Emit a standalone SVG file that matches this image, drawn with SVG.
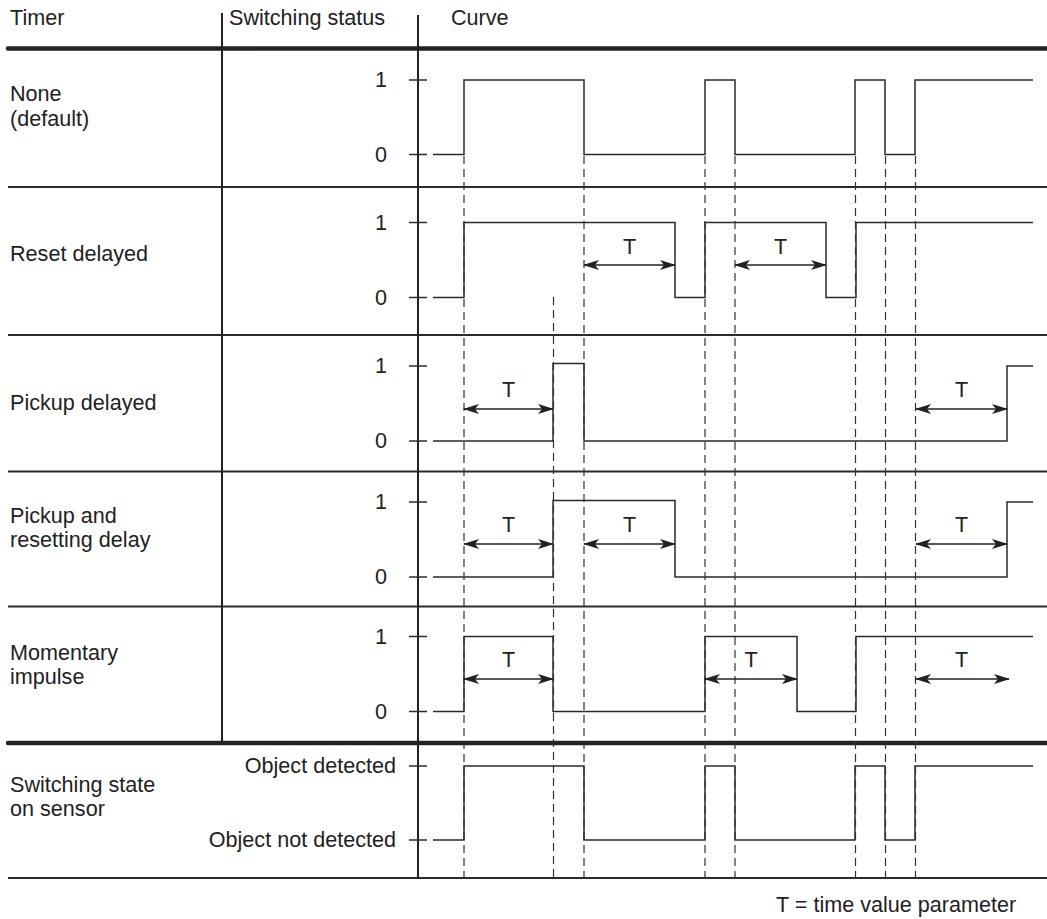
<svg xmlns="http://www.w3.org/2000/svg" width="1047" height="919" viewBox="0 0 1047 919">
<defs>
<style>
text{font-family:"Liberation Sans",Arial,sans-serif;font-size:21.6px;fill:#222}
.lvl{text-anchor:end}
.tl{text-anchor:middle}
.sig{fill:none;stroke:#2b2b2b;stroke-width:1.5}
.tick{stroke:#2b2b2b;stroke-width:1.5}
.sep{stroke:#2b2b2b;stroke-width:2}
.thick{stroke:#222;stroke-width:4.5;stroke-linecap:round}
.vl{stroke:#222;stroke-width:2}
.dash{stroke:#333;stroke-width:1.2;stroke-dasharray:8 5}
.arr{stroke:#222;stroke-width:1.5;marker-start:url(#ah);marker-end:url(#ah)}
</style>
<marker id="ah" viewBox="0 0 16 10" refX="15" refY="5" markerWidth="16" markerHeight="10" markerUnits="userSpaceOnUse" orient="auto-start-reverse">
<path d="M0,0 L16,5 L0,10 L4,5 Z" fill="#222"/>
</marker>
</defs>
<rect width="1047" height="919" fill="#fff"/>

<g id="table">
<line class="thick" x1="8" y1="48.5" x2="1047" y2="48.5"/>
<line class="sep" x1="8" y1="187" x2="1047" y2="187"/>
<line class="sep" x1="8" y1="335" x2="1047" y2="335"/>
<line class="sep" x1="8" y1="471.5" x2="1047" y2="471.5"/>
<line class="sep" x1="8" y1="606.5" x2="1047" y2="606.5"/>
<line class="thick" x1="8" y1="743" x2="1047" y2="743"/>
<line class="sep" x1="8" y1="878" x2="1047" y2="878"/>
<line class="vl" x1="222" y1="13" x2="222" y2="743"/>
<line class="vl" x1="418" y1="15" x2="418" y2="878"/>
<text x="10" y="25">Timer</text>
<text x="229" y="25">Switching status</text>
<text x="451" y="25">Curve</text>
</g>

<g id="row-none">
<text x="10" y="101">None</text>
<text x="10" y="126">(default)</text>
<line class="tick" x1="409" y1="80" x2="427" y2="80"/>
<line class="tick" x1="409" y1="154.5" x2="427" y2="154.5"/>
<text class="lvl" x="387" y="87">1</text>
<text class="lvl" x="387" y="161.5">0</text>
<path class="sig" d="M433,154.5 H464 V80 H584 V154.5 H705 V80 H735 V154.5 H855 V80 H885 V154.5 H915 V80 H1033"/>
</g>

<g id="row-reset-delayed">
<text x="10" y="261">Reset delayed</text>
<line class="tick" x1="409" y1="222.5" x2="427" y2="222.5"/>
<line class="tick" x1="409" y1="297.5" x2="427" y2="297.5"/>
<text class="lvl" x="387" y="229.5">1</text>
<text class="lvl" x="387" y="304.5">0</text>
<path class="sig" d="M433,297.5 H464 V222.5 H675 V297.5 H705 V222.5 H826 V297.5 H856 V222.5 H1033"/>
<text class="tl" x="629.5" y="254">T</text>
<text class="tl" x="780.5" y="254">T</text>
</g>

<g id="row-pickup-delayed">
<text x="10" y="410">Pickup delayed</text>
<line class="tick" x1="409" y1="366" x2="427" y2="366"/>
<line class="tick" x1="409" y1="441" x2="427" y2="441"/>
<text class="lvl" x="387" y="373">1</text>
<text class="lvl" x="387" y="448">0</text>
<path class="sig" d="M433,441 H553 V363.5 H584 V441 H1007 V366 H1033"/>
<text class="tl" x="508.5" y="397">T</text>
<text class="tl" x="961.5" y="397">T</text>
</g>

<g id="row-pickup-resetting">
<text x="10" y="523">Pickup and</text>
<text x="10" y="547">resetting delay</text>
<line class="tick" x1="409" y1="502" x2="427" y2="502"/>
<line class="tick" x1="409" y1="577" x2="427" y2="577"/>
<text class="lvl" x="387" y="509">1</text>
<text class="lvl" x="387" y="584">0</text>
<path class="sig" d="M433,577 H553 V500.5 H675 V577 H1007 V502 H1033"/>
<text class="tl" x="508.5" y="532">T</text>
<text class="tl" x="629.5" y="532">T</text>
<text class="tl" x="961.5" y="532">T</text>
</g>

<g id="row-momentary">
<text x="10" y="660">Momentary</text>
<text x="10" y="684">impulse</text>
<line class="tick" x1="409" y1="636.5" x2="427" y2="636.5"/>
<line class="tick" x1="409" y1="711.5" x2="427" y2="711.5"/>
<text class="lvl" x="387" y="643.5">1</text>
<text class="lvl" x="387" y="718.5">0</text>
<path class="sig" d="M433,711.5 H464 V636.5 H553 V711.5 H705 V636.5 H797 V711.5 H856 V636.5 H1033"/>
<text class="tl" x="508.5" y="667">T</text>
<text class="tl" x="751" y="667">T</text>
<text class="tl" x="961.5" y="667">T</text>
</g>

<g id="row-sensor">
<text x="10" y="792">Switching state</text>
<text x="10" y="816">on sensor</text>
<line class="tick" x1="409" y1="766" x2="427" y2="766"/>
<line class="tick" x1="409" y1="840" x2="427" y2="840"/>
<text class="lvl" x="396" y="773">Object detected</text>
<text class="lvl" x="396" y="847">Object not detected</text>
<path class="sig" d="M433,840 H464 V766 H584 V840 H705 V766 H735 V840 H855 V766 H885 V840 H915 V766 H1033"/>
</g>

<g id="connectors">
<line class="dash" x1="464" y1="156" x2="464" y2="877"/>
<line class="dash" x1="553.5" y1="297" x2="553.5" y2="877"/>
<line class="dash" x1="584" y1="156" x2="584" y2="877"/>
<line class="dash" x1="705" y1="156" x2="705" y2="877"/>
<line class="dash" x1="735" y1="156" x2="735" y2="877"/>
<line class="dash" x1="855.5" y1="156" x2="855.5" y2="877"/>
<line class="dash" x1="885.5" y1="156" x2="885.5" y2="877"/>
<line class="dash" x1="915.5" y1="156" x2="915.5" y2="877"/>
<line class="arr" x1="584" y1="265" x2="675" y2="265"/>
<line class="arr" x1="735" y1="265" x2="826" y2="265"/>
<line class="arr" x1="464" y1="409" x2="553" y2="409"/>
<line class="arr" x1="916" y1="409" x2="1007" y2="409"/>
<line class="arr" x1="464" y1="544" x2="553" y2="544"/>
<line class="arr" x1="584" y1="544" x2="675" y2="544"/>
<line class="arr" x1="916" y1="544" x2="1007" y2="544"/>
<line class="arr" x1="464" y1="679" x2="553" y2="679"/>
<line class="arr" x1="705" y1="679" x2="797" y2="679"/>
<line class="arr" x1="916" y1="679" x2="1009" y2="679"/>
</g>

<text x="776" y="912">T = time value parameter</text>
</svg>
